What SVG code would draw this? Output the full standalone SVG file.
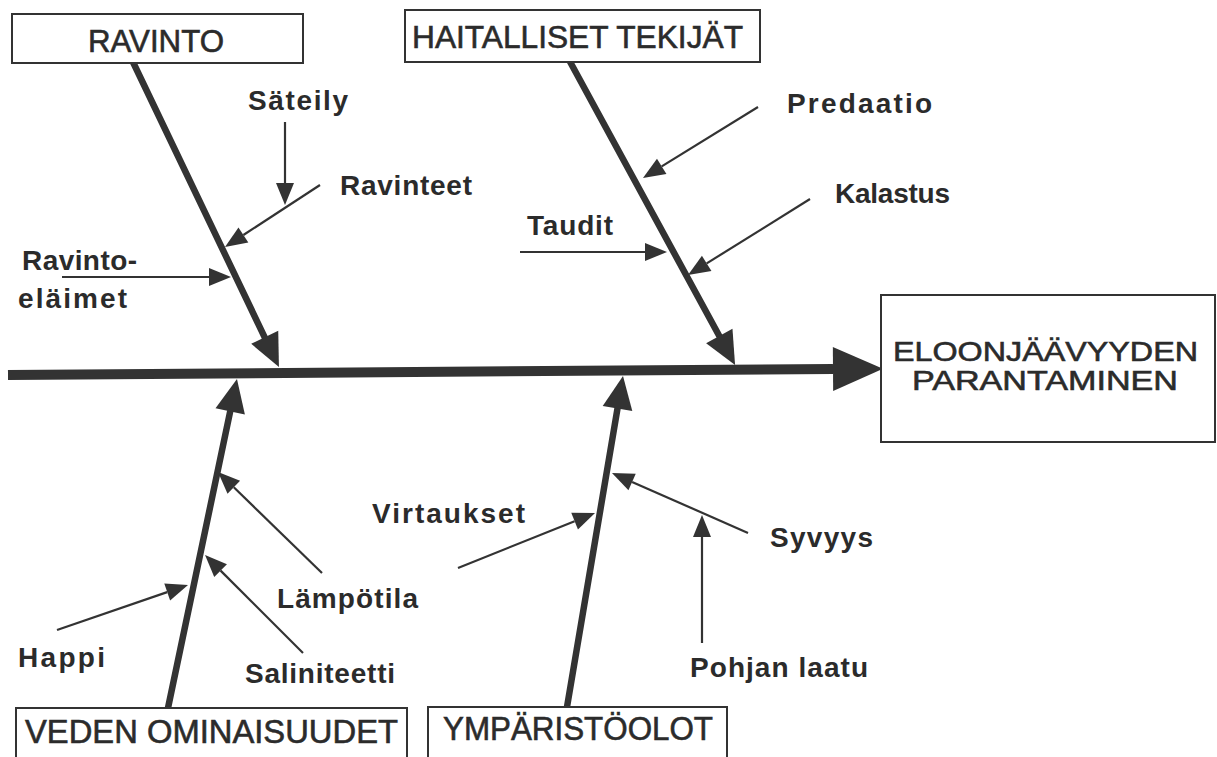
<svg xmlns="http://www.w3.org/2000/svg" width="1217" height="757" viewBox="0 0 1217 757">
<style>
.box{fill:#fff;stroke:#333;stroke-width:2}
.bt{font-family:"Liberation Sans",Arial,sans-serif;fill:#2b2b2b;stroke:#2b2b2b;stroke-width:0.6}
.lb{font-family:"Liberation Sans",Arial,sans-serif;font-weight:bold;font-size:28px;fill:#2b2b2b}
.main{stroke:#333;stroke-width:10;fill:none}
.bone{stroke:#333;stroke-width:6.5;fill:none;stroke-linecap:round}
.sub{stroke:#333;stroke-width:2.2;fill:none}
</style>
<defs>
<marker id="big" markerUnits="userSpaceOnUse" markerWidth="50" markerHeight="46" viewBox="0 -23 50 46" refX="0" refY="0" orient="auto" overflow="visible"><path d="M0,-22 L50,0 L0,22 z" fill="#333"/></marker>
<marker id="mid" markerUnits="userSpaceOnUse" markerWidth="33" markerHeight="32" viewBox="0 -16 33 32" refX="0" refY="0" orient="auto" overflow="visible"><path d="M0,-15 L33,0 L0,15 z" fill="#333"/></marker>
<marker id="sm" markerUnits="userSpaceOnUse" markerWidth="22" markerHeight="20" viewBox="0 -10 22 20" refX="0" refY="0" orient="auto" overflow="visible"><path d="M0,-9 L22,0 L0,9 z" fill="#333"/></marker>
</defs>

<g id="connectors">
<path class="main" d="M8,375 L833,369" marker-end="url(#big)"/>
<path class="bone" d="M132,60 L264.7,337.3" marker-end="url(#mid)"/>
<path class="bone" d="M568,58 L719.3,336" marker-end="url(#mid)"/>
<path class="bone" d="M168,708 L230.2,411.3" marker-end="url(#mid)"/>
<path class="bone" d="M567,707 L617.5,408.5" marker-end="url(#mid)"/>
<path class="sub" d="M285,122 L285,183" marker-end="url(#sm)"/>
<path class="sub" d="M320,185 L243.4,235" marker-end="url(#sm)"/>
<path class="sub" d="M62,277 L209,277" marker-end="url(#sm)"/>
<path class="sub" d="M758,107 L661.7,166.4" marker-end="url(#sm)"/>
<path class="sub" d="M810,199 L706.7,263.4" marker-end="url(#sm)"/>
<path class="sub" d="M520,252 L645,252" marker-end="url(#sm)"/>
<path class="sub" d="M322,573 L233.8,487.3" marker-end="url(#sm)"/>
<path class="sub" d="M57,630 L167.2,592.1" marker-end="url(#sm)"/>
<path class="sub" d="M303,653 L220.6,570.6" marker-end="url(#sm)"/>
<path class="sub" d="M458,568 L574.6,521.2" marker-end="url(#sm)"/>
<path class="sub" d="M748,533 L632.1,481.9" marker-end="url(#sm)"/>
<path class="sub" d="M702,643 L702,537" marker-end="url(#sm)"/>
</g>

<g id="ravinto">
<rect class="box" x="12" y="14" width="291" height="49"/>
<text class="bt" x="88" y="52" font-size="32" textLength="136" lengthAdjust="spacingAndGlyphs">RAVINTO</text>
</g>
<g id="haitalliset">
<rect class="box" x="405" y="10" width="355" height="52"/>
<text class="bt" x="412" y="48" font-size="32" textLength="331" lengthAdjust="spacingAndGlyphs">HAITALLISET TEKIJÄT</text>
</g>
<g id="veden">
<rect class="box" x="16" y="708" width="391" height="52"/>
<text class="bt" x="25" y="743" font-size="33" textLength="373" lengthAdjust="spacingAndGlyphs">VEDEN OMINAISUUDET</text>
</g>
<g id="ymparisto">
<rect class="box" x="428" y="707" width="299" height="53"/>
<text class="bt" x="443" y="740" font-size="33" textLength="270" lengthAdjust="spacingAndGlyphs">YMPÄRISTÖOLOT</text>
</g>
<g id="tulos">
<rect class="box" x="881" y="295" width="334" height="147"/>
<text class="bt" x="893" y="361" font-size="28" textLength="305" lengthAdjust="spacingAndGlyphs">ELOONJÄÄVYYDEN</text>
<text class="bt" x="912" y="390" font-size="28" textLength="266" lengthAdjust="spacingAndGlyphs">PARANTAMINEN</text>
</g>

<g id="labels">
<text class="lb" x="248" y="110" textLength="100" lengthAdjust="spacing">Säteily</text>
<text class="lb" x="340" y="195" textLength="132" lengthAdjust="spacing">Ravinteet</text>
<text class="lb" x="22" y="270" textLength="115" lengthAdjust="spacing">Ravinto-</text>
<text class="lb" x="18" y="308" textLength="109" lengthAdjust="spacing">eläimet</text>
<text class="lb" x="787" y="113" font-size="30" textLength="145" lengthAdjust="spacing">Predaatio</text>
<text class="lb" x="835" y="203" font-size="27" textLength="115" lengthAdjust="spacing">Kalastus</text>
<text class="lb" x="527" y="235" textLength="86" lengthAdjust="spacing">Taudit</text>
<text class="lb" x="372" y="523" font-size="29" textLength="153" lengthAdjust="spacing">Virtaukset</text>
<text class="lb" x="770" y="547" textLength="103" lengthAdjust="spacing">Syvyys</text>
<text class="lb" x="277" y="608" textLength="141" lengthAdjust="spacing">Lämpötila</text>
<text class="lb" x="18" y="667" textLength="87" lengthAdjust="spacing">Happi</text>
<text class="lb" x="245" y="683" textLength="150" lengthAdjust="spacing">Saliniteetti</text>
<text class="lb" x="690" y="677" textLength="178" lengthAdjust="spacing">Pohjan laatu</text>
</g>
</svg>
